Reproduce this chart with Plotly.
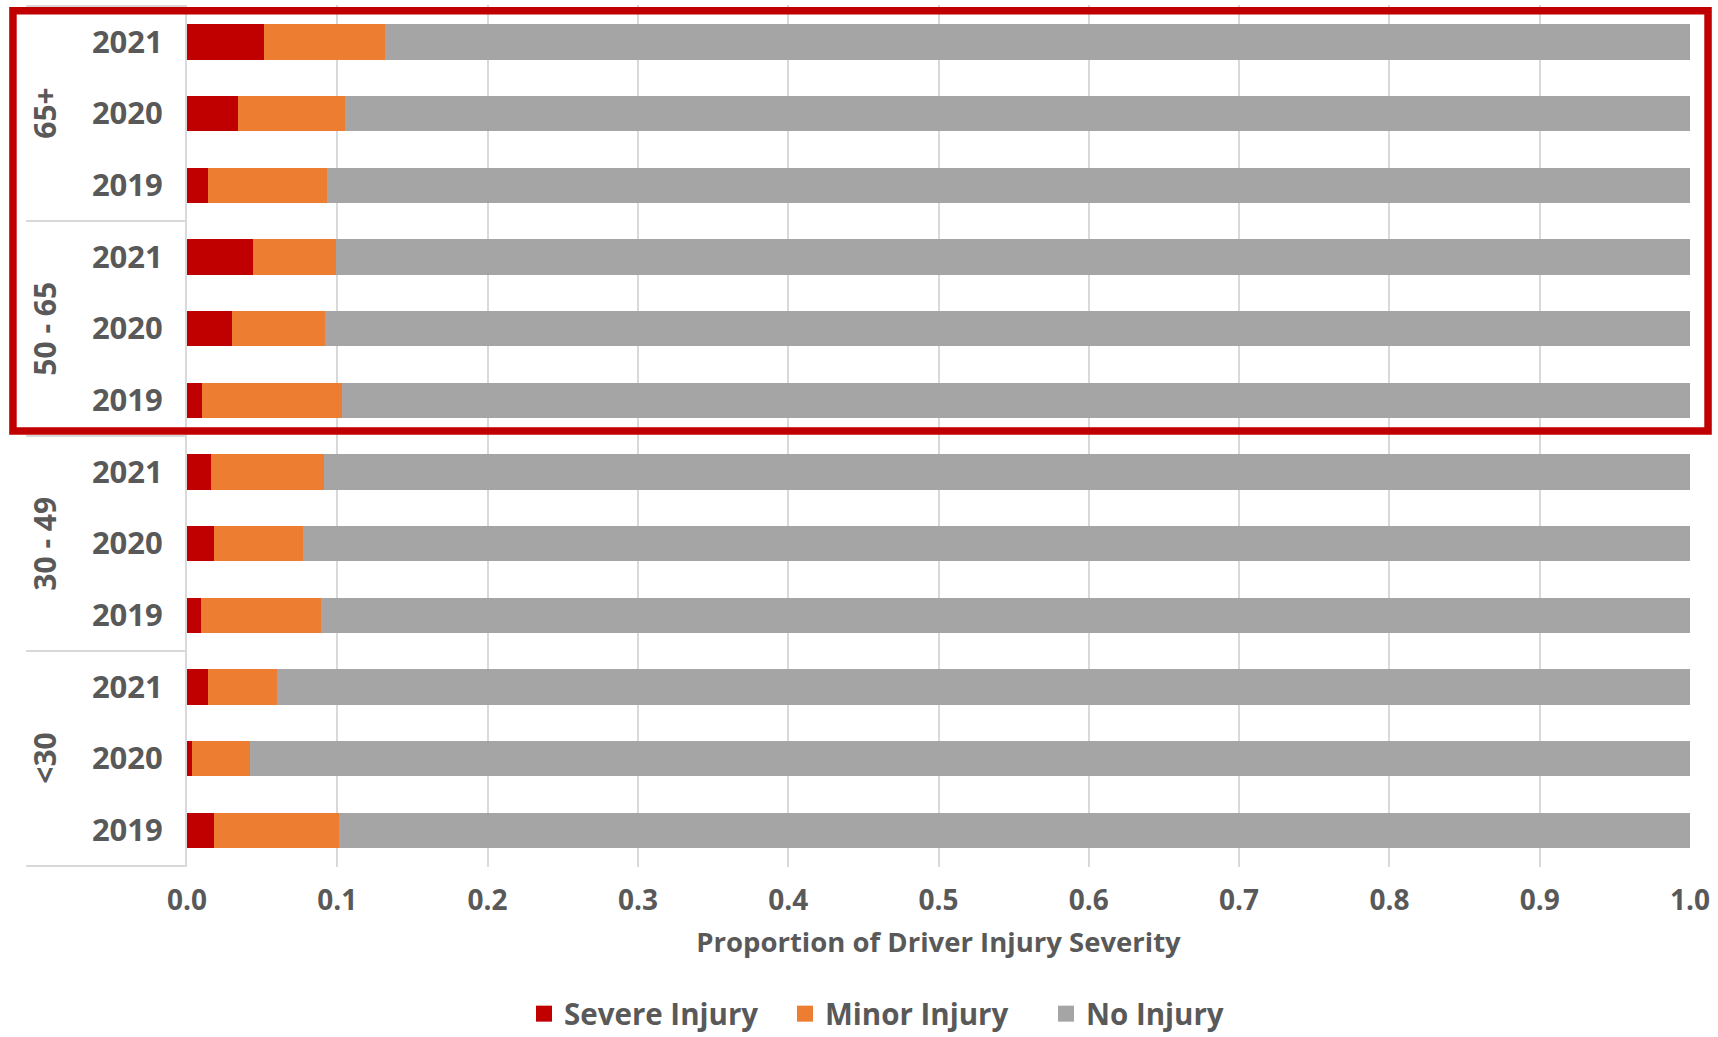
import plotly.graph_objects as go

# ---- data (top to bottom) ----
age_groups = ["65+", "50 - 65", "30 - 49", "<30"]
years = ["2021", "2020", "2019"]
series_names = ["Severe Injury", "Minor Injury", "No Injury"]

severe = [0.051, 0.034, 0.014, 0.044, 0.030, 0.010, 0.016, 0.018, 0.009, 0.014, 0.003, 0.018]
minor = [0.081, 0.071, 0.079, 0.055, 0.062, 0.093, 0.075, 0.059, 0.080, 0.046, 0.039, 0.083]
no_injury = [0.868, 0.895, 0.907, 0.901, 0.908, 0.897, 0.909, 0.923, 0.911, 0.940, 0.958, 0.899]

x_ticks = [0.0, 0.1, 0.2, 0.3, 0.4, 0.5, 0.6, 0.7, 0.8, 0.9, 1.0]
x_ticktext = ["0.0", "0.1", "0.2", "0.3", "0.4", "0.5", "0.6", "0.7", "0.8", "0.9", "1.0"]
x_title = "Proportion of Driver Injury Severity"

colors = ["#C00000", "#ED7D31", "#A5A5A5"]
TEXT = "#595959"
GRID = "#D9D9D9"
FONT = "Open Sans"

categories = [f"{g}|{y}" for g in age_groups for y in years]
year_labels = [y for g in age_groups for y in years]

fig = go.Figure()
for name, vals, col in zip(series_names, [severe, minor, no_injury], colors):
    fig.add_trace(go.Bar(
        y=categories, x=vals, name=name, orientation="h",
        marker=dict(color=col, line=dict(width=0)),
        hoverinfo="x+name", showlegend=False, legendgroup=name,
    ))
# legend entries with larger square swatches
for name, col in zip(series_names, colors):
    fig.add_trace(go.Scatter(
        x=[None], y=[None], mode="markers", name=name, legendgroup=name,
        marker=dict(symbol="square", size=16, color=col),
        showlegend=True,
    ))

W, H = 1718, 1037
ml, mr, mt, mb = 187, 28, 5, 170

fig.update_layout(
    width=W, height=H,
    margin=dict(l=ml, r=mr, t=mt, b=mb, autoexpand=False),
    barmode="stack", bargap=0.507,
    plot_bgcolor="white", paper_bgcolor="white",
    font=dict(family=FONT, color=TEXT, size=28, weight="bold"),
    showlegend=True,
    legend=dict(orientation="h", xref="container", yref="container",
                x=0.305, xanchor="left", y=0.0222, yanchor="middle",
                font=dict(size=29.5, color=TEXT, family=FONT, weight="bold"),
                traceorder="normal", itemwidth=30,
                entrywidthmode="pixels", entrywidth=216),
)

fig.update_xaxes(
    range=[0, 1], tickvals=x_ticks, ticktext=x_ticktext,
    showgrid=True, gridcolor=GRID, gridwidth=2,
    zeroline=False, showline=False, ticks="",
    ticklabelstandoff=14,
    tickfont=dict(size=28, color=TEXT, family=FONT, weight="bold"),
    title=dict(text=x_title, standoff=15,
               font=dict(size=27.5, color=TEXT, family=FONT, weight="bold")),
)
fig.update_yaxes(
    type="category", categoryorder="array", categoryarray=categories,
    autorange="reversed",
    tickvals=categories, ticktext=year_labels,
    showgrid=False, zeroline=False,
    showline=True, linecolor=GRID, linewidth=2,
    ticks="", ticklabelstandoff=16,
    tickfont=dict(size=31, color=TEXT, family=FONT, weight="bold"),
)

# group dividers in the label area
label_x0 = -0.107
for b in [-0.5, 2.5, 5.5, 8.5, 11.5]:
    fig.add_shape(type="line", xref="paper", yref="y",
                  x0=label_x0, x1=0, y0=b, y1=b,
                  line=dict(color=GRID, width=2), layer="below")

# rotated age-group labels
for i, g in enumerate(age_groups):
    fig.add_annotation(text=g, xref="paper", yref="y",
                       x=-0.095, y=i * 3 + 1, showarrow=False,
                       textangle=-90, xanchor="center", yanchor="middle",
                       font=dict(size=30, color=TEXT, family=FONT, weight="bold"))

# red highlight rectangle around the two oldest groups
fig.add_shape(type="rect", xref="paper", yref="y",
              x0=-0.1158, x1=1.012, y0=-0.432, y1=5.43,
              line=dict(color="#C00000", width=7.5), fillcolor="rgba(0,0,0,0)",
              layer="above")

fig.write_html("out.html", config={"displayModeBar": False},
               post_script="document.body.style.margin='0';document.body.style.overflow='hidden';")
